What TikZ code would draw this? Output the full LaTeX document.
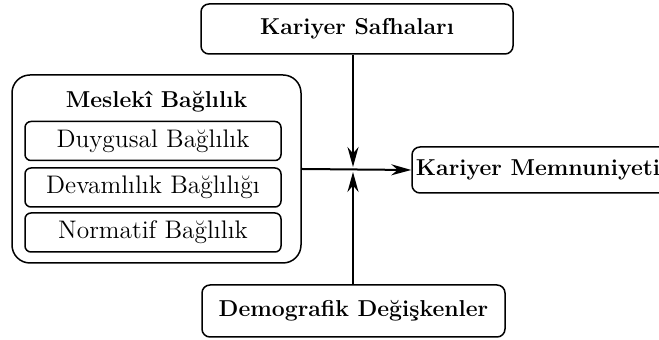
\documentclass[tikz,border=0pt]{standalone}
\usepackage{fontspec}
\usepackage{tikz}
\usetikzlibrary{arrows.meta,positioning}
\tikzset{>={Stealth[length=10pt,width=5.5pt]}}

\tikzset{
  bigbox/.style={draw, line width=0.75pt, rounded corners=4pt, font=\fontsize{11.5}{14}\selectfont\bfseries},
  inbox/.style={draw, line width=0.75pt, rounded corners=3pt, minimum width=128pt, minimum height=19.5pt, font=\fontsize{12.7}{15}\selectfont},
  conn/.style={line width=1pt}
}

\begin{document}
\begin{tikzpicture}[x=0.5pt,y=-0.5pt]
        \useasboundingbox (0,0) rectangle (659,340);

        \node[bigbox, minimum width=156pt, minimum height=25pt] (ks) at (357,29) {Kariyer Safhaları};
        \node[bigbox, minimum width=151.5pt, minimum height=26pt] (dd) at (353.5,311) {Demografik Değişkenler};
        \node[bigbox, minimum width=128pt, minimum height=23pt] (km) at (540,170) {\hspace*{-2pt}Kariyer Memnuniyeti};

        \node[draw, line width=0.75pt, rounded corners=9pt, minimum width=144.5pt, minimum height=94pt] (mb) at (156.5,169) {};
        \node[font=\fontsize{11.5}{14}\selectfont\bfseries] (mbt) at (156.5,102) {Meslekî Bağlılık};
        \foreach \txt/\y/\nm in {Duygusal Bağlılık/141/db, Devamlılık Bağlılığı/187.5/dvb, Normatif Bağlılık/232.5/nb}
        {
        \node[inbox] (\nm) at (153,\y) {\txt};
        }

        \coordinate (jn) at (353,169);
        \draw[conn,->] (mb.east) -- (km.west);
        \draw[conn,->,shorten >=1pt] (ks.south -| jn) -- (jn);
        \draw[conn,->,shorten >=1.5pt] (dd.north -| jn) -- (jn);
\end{tikzpicture}
\end{document}
